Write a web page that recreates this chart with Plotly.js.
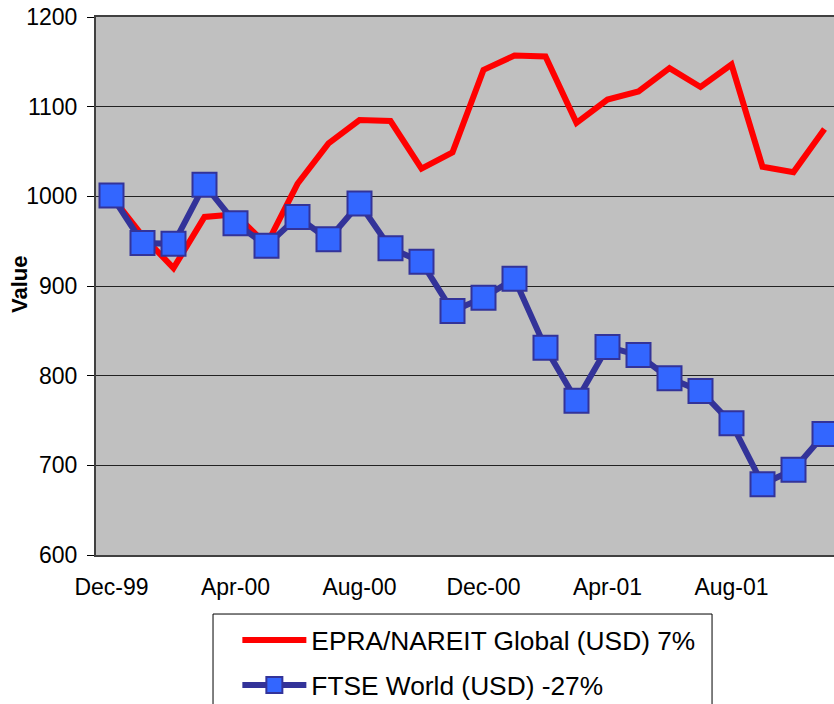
<!DOCTYPE html>
<html>
<head>
<meta charset="utf-8">
<script src="https://cdn.plot.ly/plotly-3.0.1.min.js"></script>
<style>
html, body { margin: 0; padding: 0; overflow: hidden; background: #fff; }
#chart { width: 850px; height: 704px; }
</style>
</head>
<body>
<div id="chart"></div>
<script>
const months = ['Dec-99','Jan-00','Feb-00','Mar-00','Apr-00','May-00','Jun-00','Jul-00','Aug-00','Sep-00','Oct-00','Nov-00',
                'Dec-00','Jan-01','Feb-01','Mar-01','Apr-01','May-01','Jun-01','Jul-01','Aug-01','Sep-01','Oct-01','Nov-01'];
const epraValues = [1000, 956, 920, 977, 980, 946, 1014, 1059, 1085, 1084, 1031, 1049,
                    1141, 1157, 1156, 1082, 1108, 1117, 1143, 1122, 1147, 1033, 1027, 1075];
const ftseValues = [1001, 948, 947, 1013, 970, 945, 977, 952, 992, 942, 927, 872,
                    887, 908, 831, 772, 832, 823, 797, 783, 747, 679, 695, 735];
const tickLabels = ['Dec-99','Apr-00','Aug-00','Dec-00','Apr-01','Aug-01'];
const boundaryTicks = [-0.5, 3.5, 7.5, 11.5, 15.5, 19.5, 23.5];
const yTicks = [600, 700, 800, 900, 1000, 1100, 1200];
const seriesNames = ['EPRA/NAREIT Global (USD) 7%', 'FTSE World (USD) -27%'];
const yTitle = 'Value';

const FONT = 'Liberation Sans, Arial, sans-serif';

const traces = [
  {
    x: months, y: epraValues, name: seriesNames[0], type: 'scatter', mode: 'lines',
    legendgroup: 'g1',
    line: { color: '#FF0000', width: 6 }
  },
  {
    x: months, y: ftseValues, name: seriesNames[1], type: 'scatter', mode: 'lines+markers',
    legendgroup: 'g2',
    line: { color: '#333399', width: 6 },
    marker: { symbol: 'square', size: 24, color: '#3366FF', line: { color: '#333399', width: 2 } }
  }
];

const layout = {
  width: 850, height: 704,
  margin: { l: 96, r: 10, t: 17, b: 149, autoexpand: false },
  paper_bgcolor: '#FFFFFF',
  plot_bgcolor: '#C0C0C0',
  font: { family: FONT, size: 23, color: '#000' },
  showlegend: true,
  legend: {
    x: 0.19, y: -0.114, xanchor: 'left', yanchor: 'top',
    bgcolor: 'rgba(0,0,0,0)', borderwidth: 0,
    font: { family: FONT, size: 26.3, color: '#000' },
    itemwidth: 64, tracegroupgap: 8
  },
  xaxis: {
    type: 'category', range: [-0.5, 23.5],
    tickmode: 'array', tickvals: tickLabels, ticktext: tickLabels,
    ticks: '', showgrid: false, zeroline: false,
    showline: true, linecolor: '#404040', linewidth: 2, mirror: true,
    tickfont: { family: FONT, size: 23, color: '#000' },
    ticklabelstandoff: 10
  },
  xaxis2: {
    overlaying: 'x', anchor: 'y', side: 'bottom', type: 'linear',
    range: [-0.5, 23.5], tickmode: 'array', tickvals: boundaryTicks,
    ticks: 'outside', ticklen: 6, tickwidth: 1, tickcolor: '#000',
    showticklabels: false, showgrid: false, zeroline: false, showline: false
  },
  yaxis: {
    range: [600, 1200], tickmode: 'array', tickvals: yTicks,
    ticks: 'outside', ticklen: 7, tickwidth: 1, tickcolor: '#000',
    showgrid: true, gridcolor: '#222222', gridwidth: 1, zeroline: false,
    showline: true, linecolor: '#404040', linewidth: 2, mirror: true,
    tickfont: { family: FONT, size: 23, color: '#000' },
    ticklabelstandoff: 5
  },
  annotations: [
    { text: '<b>' + yTitle + '</b>', xref: 'paper', yref: 'paper', x: -0.102, y: 0.502,
      xanchor: 'center', yanchor: 'middle', textangle: -90, showarrow: false,
      font: { family: FONT, size: 22, color: '#000' } }
  ],
  shapes: [
    { type: 'rect', xref: 'paper', yref: 'paper', x0: 0.1573, x1: 0.828, y0: -0.1097, y1: -0.32,
      fillcolor: '#FFFFFF', line: { color: '#000', width: 1 }, layer: 'above' }
  ]
};

Plotly.newPlot('chart', traces, layout, { displayModeBar: false, staticPlot: true });
</script>
</body>
</html>
